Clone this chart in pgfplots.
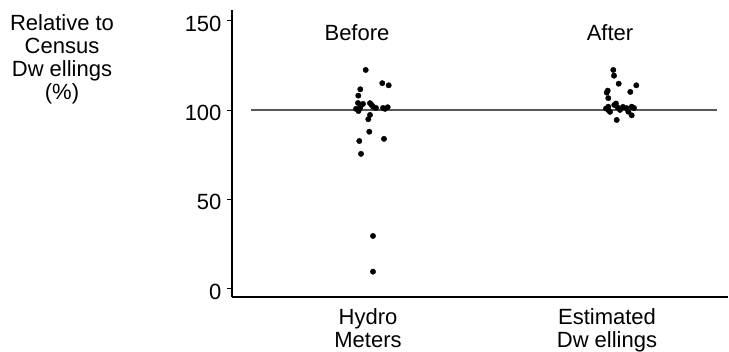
\documentclass[border=0pt]{standalone}
\usepackage{pgfplots}
\pgfplotsset{compat=1.18}
\usepackage{fontspec}
\setmainfont{Liberation Sans}
\newcommand{\bigf}{\fontsize{22}{23}\selectfont}
\begin{document}
\begin{tikzpicture}
\begin{axis}[
  scale only axis,
  width=496pt, height=287pt,
  xmin=0, xmax=496,
  ymin=-4.8, ymax=156,
  axis x line=bottom, axis y line=left,
  axis line style={-, line width=1.2pt, black},
  clip=false,
  xtick={136,375},
  xticklabels={Hydro\\Meters, Estimated\\Dw ellings},
  xticklabel style={align=center, font=\bigf, yshift=-3pt},
  x tick style={draw=none},
  ytick={0,50,100,150},
  tick align=outside,
  major tick length=5pt,
  y tick style={black, line width=0.8pt},
  yticklabel style={font=\bigf, yshift=-3pt, xshift=-2pt},
  /pgf/number format/assume math mode=true,
]
\draw[gray!70!black, line width=1.3pt] (axis cs:19,100) -- (axis cs:485,100);
\addplot[only marks, mark=*, mark size=2.7pt, black] coordinates {
(133.7,122.4) (128.3,111.6) (126.3,108.0) (150.3,115.0) (156.7,113.8)
(126,103.9) (128.7,102.2) (128,101.1) (124,100.6) (131,103.4)
(138,103.8) (139.7,102.8) (141,101.8) (144,101.1) (151,101.1)
(155.7,101.5) (153,100.6) (126.5,99.4) (138,97.2) (136.3,94.8)
(137.3,87.8) (127.3,82.6) (152,83.8) (129,75.4) (141,29.4) (141,9.4)
};
\addplot[only marks, mark=*, mark size=2.7pt, black] coordinates {
(381.3,122.4) (382,119.2) (386.7,114.7) (404.3,113.8) (375.7,110.8)
(374.7,109.7) (398.3,110.1) (376.3,106.6) (376.3,101.8) (376.3,100.0)
(374,100.8) (382.3,102.8) (385.7,101.3) (388,100.0) (384,103.6)
(394.7,101.0) (399.7,101.8) (396.3,99.0) (402,101.1) (384.7,94.4)
(399.7,97.0) (391,101.7) (378,98.9)
};
\node[font=\bigf] at (axis cs:125,143.1) {Before};
\node[font=\bigf] at (axis cs:378,143.1) {After};
\node[font=\bigf, align=center] at (axis cs:-170,128.6) {Relative to\\Census\\Dw ellings\\(\%)};
\end{axis}
\pgfresetboundingbox
\useasboundingbox (-232pt,-55pt) rectangle (497pt,297pt);
\end{tikzpicture}
\end{document}
